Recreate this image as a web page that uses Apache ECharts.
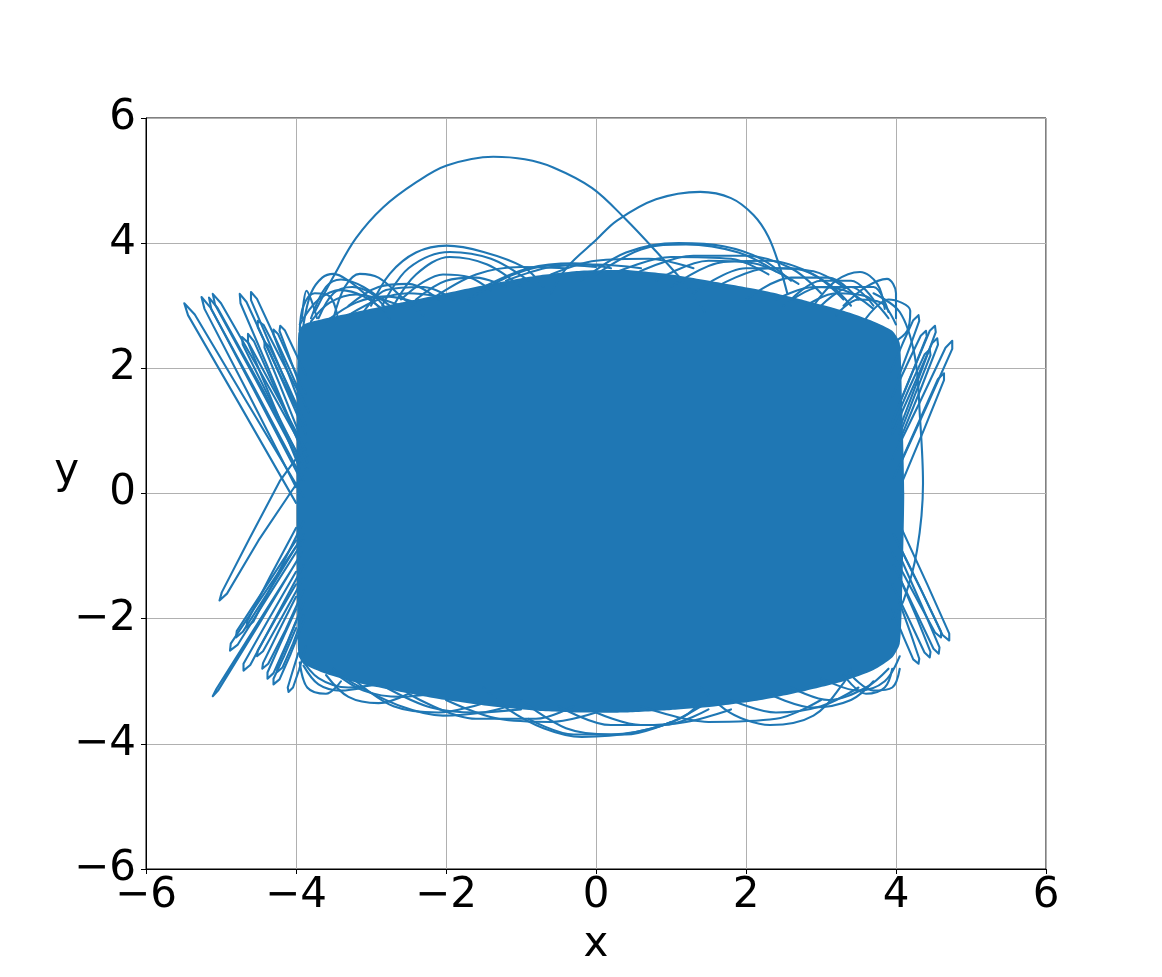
<!DOCTYPE html>
<html>
<head>
<meta charset="utf-8">
<script src="https://cdn.jsdelivr.net/npm/echarts@6/dist/echarts.min.js"></script>
<style>
  html, body { margin: 0; padding: 0; background: #fff; }
  #main { width: 1162px; height: 977px; }
</style>
</head>
<body>
<div id="main"></div>
<script>
// dense core of the trajectory, outline
const coreOutline = [
  [-3.97, 2.55], [-3.9, 2.7], [-3.6, 2.8], [-3.2, 2.9], [-2.6, 3.05], [-2.0, 3.2], [-1.4, 3.35],
  [-0.8, 3.48], [-0.2, 3.56], [0.4, 3.57], [1.0, 3.5], [1.6, 3.38], [2.2, 3.25], [2.8, 3.08],
  [3.3, 2.92], [3.7, 2.75], [3.95, 2.6], [4.05, 2.4], [4.08, 1.5], [4.11, 0], [4.08, -1.7],
  [4.05, -2.4], [3.95, -2.62], [3.7, -2.82], [3.3, -3.0], [2.8, -3.15], [2.2, -3.3], [1.6, -3.4],
  [1.0, -3.46], [0.4, -3.5], [-0.2, -3.5], [-0.8, -3.47], [-1.4, -3.4], [-2.0, -3.3], [-2.6, -3.17],
  [-3.2, -3.02], [-3.6, -2.88], [-3.9, -2.72], [-3.97, -2.55], [-3.99, -0.9], [-3.99, 1.0]
];

// narrow loops leaving the core to the upper left
const upperLeftLoops = [
  [[-4.0, -0.15], [-4.77, 1.46], [-5.44, 2.85], [-5.49, 3.04], [-5.35, 2.86], [-4.67, 1.49], [-3.9, -0.05]],
  [[-4.0, 0.1], [-4.65, 1.63], [-5.22, 2.95], [-5.26, 3.14], [-5.14, 2.97], [-4.55, 1.67], [-3.9, 0.2]],
  [[-3.97, 0.3], [-4.59, 1.72], [-5.13, 2.95], [-5.16, 3.13], [-5.05, 2.97], [-4.49, 1.76], [-3.87, 0.4]],
  [[-3.95, 0.5], [-4.55, 1.85], [-5.08, 3.02], [-5.11, 3.19], [-5.0, 3.04], [-4.45, 1.89], [-3.85, 0.6]],
  [[-3.97, 0.85], [-4.38, 2.03], [-4.74, 3.04], [-4.75, 3.19], [-4.66, 3.06], [-4.28, 2.07], [-3.87, 0.95]],
  [[-3.93, 1.2], [-4.29, 2.22], [-4.6, 3.09], [-4.6, 3.22], [-4.52, 3.11], [-4.19, 2.26], [-3.83, 1.3]],
  [[-3.97, 0.6], [-4.37, 1.56], [-4.71, 2.38], [-4.72, 2.5], [-4.63, 2.4], [-4.27, 1.6], [-3.87, 0.7]],
  [[-3.95, 0.4], [-4.32, 1.48], [-4.64, 2.41], [-4.64, 2.55], [-4.56, 2.43], [-4.22, 1.52], [-3.85, 0.5]],
  [[-3.97, 1.3], [-4.27, 2.04], [-4.51, 2.66], [-4.51, 2.76], [-4.43, 2.69], [-4.17, 2.08], [-3.87, 1.4]],
  [[-3.97, 1.8], [-4.11, 2.25], [-4.22, 2.6], [-4.21, 2.68], [-4.15, 2.61], [-4.02, 2.28], [-3.87, 1.9]],
  [[-3.97, 1.0], [-4.21, 1.72], [-4.42, 2.33], [-4.42, 2.42], [-4.35, 2.34], [-4.12, 1.76], [-3.87, 1.1]],
  [[-3.97, 1.5], [-4.15, 2.07], [-4.3, 2.54], [-4.3, 2.62], [-4.24, 2.55], [-4.07, 2.1], [-3.87, 1.6]]
];

// loops leaving the core to the lower left
const lowerLeftLoops = [
  [[-3.85, 0.8], [-4.21, 0.21], [-4.62, -0.72], [-4.99, -1.58], [-5.02, -1.71], [-4.92, -1.6], [-4.5, -0.75], [-4.08, 0.0], [-3.85, 0.4]],
  [[-3.92, -0.95], [-4.55, -2.15], [-5.06, -3.12], [-5.11, -3.24], [-5.04, -3.15], [-4.5, -2.1], [-3.95, -1.0]],
  [[-4.0, -0.85], [-4.47, -1.68], [-4.87, -2.4], [-4.88, -2.51], [-4.78, -2.42], [-4.37, -1.64], [-3.9, -0.75]],
  [[-4.0, -1.25], [-4.38, -2.04], [-4.7, -2.72], [-4.7, -2.83], [-4.61, -2.74], [-4.28, -2.0], [-3.9, -1.15]],
  [[-4.0, -1.85], [-4.21, -2.4], [-4.38, -2.86], [-4.38, -2.96], [-4.3, -2.87], [-4.11, -2.36], [-3.9, -1.75]],
  [[-3.97, -2.55], [-4.05, -2.86], [-4.11, -3.1], [-4.1, -3.17], [-4.04, -3.1], [-3.96, -2.82], [-3.87, -2.45]],
  [[-4.0, -0.55], [-4.35, -1.34], [-4.65, -2.04], [-4.66, -2.14], [-4.57, -2.05], [-4.25, -1.3], [-3.9, -0.45]],
  [[-4.0, -1.45], [-4.28, -2.02], [-4.51, -2.51], [-4.52, -2.6], [-4.44, -2.52], [-4.19, -1.98], [-3.9, -1.35]],
  [[-4.0, -2.05], [-4.13, -2.44], [-4.25, -2.77], [-4.25, -2.85], [-4.18, -2.78], [-4.04, -2.4], [-3.9, -1.95]],
  [[-4.0, -0.75], [-4.42, -1.52], [-4.79, -2.2], [-4.8, -2.3], [-4.71, -2.21], [-4.32, -1.48], [-3.9, -0.65]],
  [[-4.0, -2.15], [-4.16, -2.6], [-4.3, -2.96], [-4.3, -3.05], [-4.22, -2.97], [-4.07, -2.56], [-3.9, -2.05]],
  [[-4.0, -1.65], [-4.24, -2.22], [-4.44, -2.71], [-4.45, -2.8], [-4.37, -2.72], [-4.14, -2.18], [-3.9, -1.55]]
];

// loops leaving the core to the upper right
const upperRightLoops = [
  [[4.05, 0.45], [4.43, 1.45], [4.75, 2.31], [4.75, 2.44], [4.66, 2.33], [4.33, 1.49], [3.95, 0.55]],
  [[4.05, 1.05], [4.31, 1.87], [4.53, 2.58], [4.52, 2.68], [4.45, 2.6], [4.21, 1.91], [3.95, 1.15]],
  [[4.05, 0.85], [4.33, 1.67], [4.56, 2.38], [4.55, 2.48], [4.48, 2.4], [4.23, 1.71], [3.95, 0.95]],
  [[4.07, 0.15], [4.38, 1.04], [4.64, 1.81], [4.64, 1.92], [4.56, 1.83], [4.28, 1.08], [3.97, 0.25]],
  [[4.05, 1.45], [4.25, 2.03], [4.41, 2.51], [4.4, 2.6], [4.33, 2.52], [4.15, 2.07], [3.95, 1.55]],
  [[4.03, 1.85], [4.19, 2.36], [4.31, 2.76], [4.3, 2.85], [4.23, 2.77], [4.09, 2.4], [3.93, 1.95]],
  [[4.05, 0.95], [4.27, 1.63], [4.46, 2.21], [4.45, 2.3], [4.38, 2.22], [4.17, 1.67], [3.95, 1.05]]
];

// loops leaving the core to the lower right
const lowerRightLoops = [
  [[4.07, -0.55], [4.42, -1.46], [4.71, -2.24], [4.71, -2.35], [4.62, -2.26], [4.32, -1.5], [3.97, -0.65]],
  [[4.07, -1.05], [4.35, -1.81], [4.58, -2.46], [4.57, -2.56], [4.5, -2.48], [4.25, -1.85], [3.97, -1.15]],
  [[4.05, -1.35], [4.28, -1.99], [4.46, -2.53], [4.45, -2.62], [4.38, -2.54], [4.18, -2.03], [3.95, -1.45]],
  [[4.05, -1.75], [4.2, -2.25], [4.31, -2.64], [4.3, -2.72], [4.23, -2.65], [4.1, -2.29], [3.95, -1.85]],
  [[4.05, -0.85], [4.35, -1.58], [4.6, -2.21], [4.6, -2.3], [4.52, -2.22], [4.25, -1.62], [3.95, -0.95]]
];

// the two big excursions above the core
const highArcs = [
  [[-3.75, 2.9], [-3.48, 3.51], [-3.2, 4.08], [-2.84, 4.57], [-2.4, 4.97], [-1.99, 5.24], [-1.37, 5.38],
   [-0.95, 5.34], [-0.57, 5.21], [-0.05, 4.88], [0.39, 4.39], [0.8, 3.87], [1.23, 3.29], [1.45, 2.9]],
  [[-0.6, 3.2], [-0.39, 3.61], [0.0, 4.05], [0.28, 4.36], [0.8, 4.7], [1.39, 4.82], [1.8, 4.72],
   [2.1, 4.45], [2.3, 4.1], [2.45, 3.62], [2.55, 3.2]]
];

// arcs crowding the top edge of the core
const topArcs = [
  [[-3.9, 2.7], [-3.8, 3.2], [-3.65, 3.45], [-3.5, 3.51], [-3.3, 3.4], [-3.0, 3.1], [-2.75, 2.8]],
  [[-3.5, 2.8], [-3.35, 3.3], [-3.15, 3.51], [-2.9, 3.45], [-2.6, 3.15], [-2.3, 2.85]],
  [[-3.8, 2.8], [-3.6, 3.3], [-3.4, 3.42], [-3.1, 3.3], [-2.7, 2.95]],
  [[-3.92, 2.8], [-3.86, 3.24], [-3.8, 3.1], [-3.72, 2.8]],
  [[-3.0, 3.0], [-2.75, 3.51], [-2.4, 3.85], [-1.99, 3.96], [-1.5, 3.86], [-0.97, 3.62], [-0.7, 3.3]],
  [[-2.85, 3.0], [-2.5, 3.6], [-1.95, 3.86], [-1.4, 3.75], [-0.9, 3.4]],
  [[-2.7, 3.0], [-2.4, 3.5], [-1.95, 3.78], [-1.45, 3.66], [-1.0, 3.3]],
  [[-2.6, 3.1], [-2.3, 3.38], [-2.04, 3.5], [-1.7, 3.46], [-1.4, 3.25]],
  [[-1.5, 3.3], [-0.9, 3.6], [-0.3, 3.68], [0.2, 3.6]],
  [[-1.7, 3.1], [-1.1, 3.5], [-0.5, 3.65], [0.0, 3.62]],
  [[-3.3, 3.0], [-2.9, 3.3], [-2.5, 3.35], [-2.1, 3.1]],
  [[-3.1, 2.9], [-2.8, 3.25], [-2.3, 3.3], [-1.9, 3.1]],
  [[-2.2, 3.1], [-1.6, 3.5], [-1.0, 3.62], [-0.4, 3.6]],
  [[-1.2, 3.4], [-0.6, 3.62], [0.0, 3.66], [0.6, 3.6]],
  [[-2.4, 3.1], [-2.0, 3.4], [-1.6, 3.45], [-1.2, 3.3]],
  [[-3.95, 2.6], [-3.9, 3.0], [-3.75, 3.2], [-3.55, 3.15], [-3.45, 2.85]],
  [[-3.7, 2.8], [-3.5, 3.2], [-3.25, 3.3], [-3.0, 3.2], [-2.8, 2.95]],
  [[-3.95, 2.7], [-3.7, 3.1], [-3.4, 3.25], [-3.1, 3.15], [-2.8, 2.9]],
  [[-3.8, 2.75], [-3.55, 3.05], [-3.2, 3.18], [-2.85, 3.1], [-2.5, 2.95]],
  [[-3.6, 2.75], [-3.2, 3.05], [-2.8, 3.15], [-2.4, 3.05]],
  [[-3.3, 2.85], [-2.9, 3.1], [-2.5, 3.2], [-2.1, 3.15]],
  [[-0.2, 3.4], [0.4, 3.85], [1.1, 4.0], [1.7, 3.95], [2.2, 3.75], [2.6, 3.4]],
  [[0.0, 3.5], [0.6, 3.9], [1.2, 3.98], [1.9, 3.85], [2.4, 3.55]],
  [[0.5, 3.5], [1.3, 3.8], [2.0, 3.8], [2.6, 3.6], [3.0, 3.2]],
  [[1.0, 3.3], [1.7, 3.7], [2.3, 3.72], [2.9, 3.5], [3.3, 3.1]],
  [[1.3, 3.2], [2.0, 3.6], [2.6, 3.6], [3.1, 3.35], [3.4, 3.0]],
  [[2.0, 3.1], [2.6, 3.45], [3.1, 3.45], [3.5, 3.1]],
  [[2.9, 3.0], [3.2, 3.4], [3.52, 3.54], [3.75, 3.35], [3.85, 2.95]],
  [[3.3, 3.0], [3.6, 3.3], [3.88, 3.43], [4.0, 3.2], [4.0, 2.8]],
  [[3.6, 2.8], [3.9, 3.1], [4.19, 2.92], [4.15, 2.6], [3.95, 2.4]],
  [[2.5, 3.0], [3.0, 3.3], [3.4, 3.3], [3.7, 3.0]],
  [[0.8, 3.4], [1.5, 3.72], [2.1, 3.68], [2.7, 3.35]],
  [[-0.6, 3.5], [0.0, 3.72], [0.7, 3.75], [1.3, 3.6]],
  [[0.3, 3.55], [1.0, 3.78], [1.8, 3.75], [2.3, 3.5]],
  [[1.6, 3.3], [2.3, 3.6], [2.9, 3.55], [3.3, 3.3]],
  [[2.6, 3.1], [3.0, 3.4], [3.4, 3.4], [3.7, 3.1]],
  [[3.0, 3.0], [3.4, 3.3], [3.7, 3.3], [3.9, 2.9]],
  [[2.4, 3.1], [2.9, 3.3], [3.3, 3.25], [3.7, 2.95]],
  [[2.8, 3.0], [3.2, 3.2], [3.6, 3.15], [3.9, 2.8]],
  [[3.2, 2.85], [3.5, 3.1], [3.8, 3.05], [4.0, 2.7]]
];

// arcs below the core
const bottomArcs = [
  [[-1.5, -3.1], [-1.17, -3.45], [-0.7, -3.75], [-0.19, -3.89], [0.5, -3.82], [1.15, -3.58], [1.5, -3.2]],
  [[1.4, -3.1], [1.72, -3.45], [2.0, -3.62], [2.32, -3.7], [2.9, -3.55], [3.3, -3.03], [3.4, -2.8]],
  [[-3.5, -2.8], [-3.24, -3.03], [-2.6, -3.4], [-2.04, -3.55], [-1.5, -3.5], [-1.17, -3.4]],
  [[-1.0, -3.3], [-0.4, -3.75], [0.2, -3.85], [0.9, -3.7], [1.4, -3.4]],
  [[-2.5, -3.2], [-1.6, -3.6], [-0.8, -3.6], [-0.3, -3.4]],
  [[0.6, -3.4], [1.5, -3.65], [2.4, -3.6], [3.0, -3.3]],
  [[3.3, -2.9], [3.6, -3.2], [3.85, -3.1], [3.95, -2.8]],
  [[-3.95, -2.7], [-3.85, -3.1], [-3.6, -3.2], [-3.4, -3.0]],
  [[-3.6, -2.9], [-3.3, -3.25], [-2.9, -3.35], [-2.5, -3.2]],
  [[-3.2, -3.0], [-2.7, -3.4], [-2.1, -3.5], [-1.5, -3.35]],
  [[-2.0, -3.3], [-1.3, -3.6], [-0.6, -3.65], [0.0, -3.5]],
  [[-0.5, -3.4], [0.2, -3.7], [0.9, -3.7], [1.5, -3.45]],
  [[2.3, -3.2], [2.9, -3.42], [3.4, -3.3], [3.7, -3.0]],
  [[3.4, -2.9], [3.7, -3.15], [3.95, -3.1], [4.05, -2.8]],
  [[-0.9, -3.6], [-0.3, -3.85], [0.4, -3.85], [1.0, -3.65]],
  [[-3.9, -2.75], [-3.7, -3.05], [-3.4, -3.15], [-3.1, -3.1]],
  [[-2.8, -3.1], [-2.2, -3.42], [-1.6, -3.5], [-1.0, -3.45]],
  [[0.0, -3.5], [0.6, -3.7], [1.2, -3.65], [1.8, -3.45]],
  [[1.8, -3.3], [2.4, -3.5], [3.0, -3.4], [3.5, -3.1]],
  [[-3.95, -2.6], [-3.7, -2.95], [-3.3, -3.1], [-2.9, -3.05]],
  [[-3.5, -2.85], [-3.1, -3.15], [-2.6, -3.25], [-2.2, -3.2]],
  [[2.6, -3.1], [3.1, -3.3], [3.6, -3.1], [3.9, -2.8]],
  [[3.0, -2.95], [3.5, -3.15], [3.85, -3.0], [4.05, -2.6]]
];

// the wide arc on the right side
const rightArc = [[3.7, 3.2], [4.05, 2.9], [4.25, 2.2], [4.32, 1.21], [4.36, 0.16], [4.28, -0.91], [4.1, -1.71], [3.95, -2.0]];

const BLUE = '#1f77b4';
const FONT = 'DejaVu Sans';
const minus = v => String(v).replace('-', '\u2212');

const myChart = echarts.init(document.getElementById('main'));

function lineOf(pts, smooth) {
  return {
    type: 'line',
    data: pts,
    smooth: smooth,
    showSymbol: false,
    symbol: 'none',
    silent: true,
    lineStyle: { color: BLUE, width: 2.1, join: 'round', cap: 'round' },
    z: 3
  };
}

let narrowLoops = [].concat(upperLeftLoops, lowerLeftLoops, upperRightLoops, lowerRightLoops);
let roundArcs = [].concat(highArcs, topArcs, bottomArcs, [rightArc]);
let lineSeries = narrowLoops.map(pts => lineOf(pts, false))
  .concat(roundArcs.map(pts => lineOf(pts, 0.35)));

const axisCommon = {
  type: 'value',
  min: -6,
  max: 6,
  interval: 2,
  nameMoveOverlap: false,
  axisLine: { show: true, onZero: false, lineStyle: { color: '#000', width: 1 } },
  axisTick: { show: true, inside: false, length: 5, lineStyle: { color: '#000', width: 1 } },
  splitLine: { show: true, lineStyle: { color: '#b0b0b0', width: 1 } }
};

const option = {
  backgroundColor: '#fff',
  animation: false,
  grid: {
    left: 146, top: 118, width: 900, height: 751,
    show: true, borderColor: '#000', borderWidth: 1, containLabel: false
  },
  xAxis: Object.assign({}, axisCommon, {
    name: 'x',
    nameLocation: 'middle',
    nameGap: 55,
    nameTextStyle: { fontFamily: FONT, fontSize: 42, color: '#000' },
    axisLabel: { fontFamily: FONT, fontSize: 42, color: '#000', margin: 6, formatter: minus }
  }),
  yAxis: Object.assign({}, axisCommon, {
    name: 'y',
    nameLocation: 'middle',
    nameRotate: 0,
    nameGap: 67,
    nameTextStyle: { fontFamily: FONT, fontSize: 42, color: '#000', verticalAlign: 'bottom' },
    axisLabel: { fontFamily: FONT, fontSize: 42, color: '#000', margin: 10, formatter: minus }
  }),
  series: [
    {
      type: 'custom',
      data: coreOutline,
      silent: true,
      z: 2,
      renderItem: function (params, api) {
        if (params.dataIndex !== 0) return;
        return {
          type: 'polygon',
          shape: { points: coreOutline.map(p => api.coord(p)), smooth: 0.2 },
          style: { fill: BLUE }
        };
      }
    }
  ].concat(lineSeries)
};

myChart.setOption(option);
</script>
</body>
</html>
